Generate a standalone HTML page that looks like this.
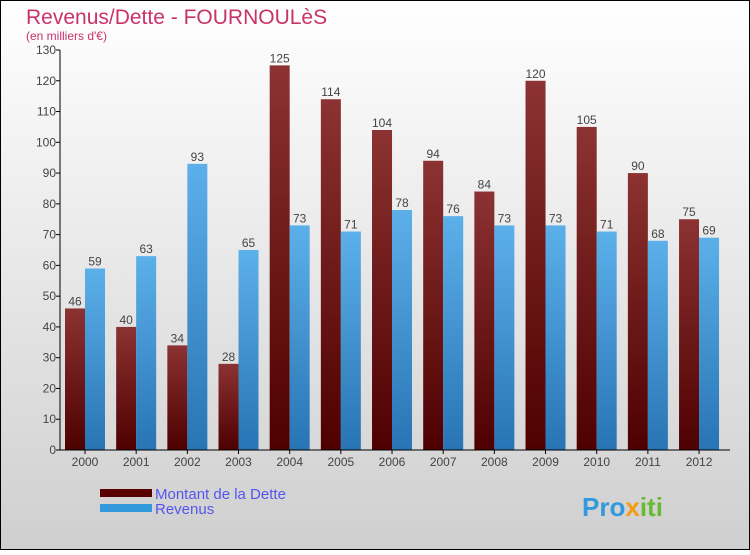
<!DOCTYPE html>
<html><head><meta charset="utf-8"><style>
body{margin:0}
#c{width:750px;height:550px;position:relative;font-family:"Liberation Sans",sans-serif}
</style></head><body>
<div id="c">
<svg width="750" height="550" id="svg">
<defs>
<linearGradient id="bg" x1="0" y1="0" x2="0" y2="1"><stop offset="0" stop-color="#ffffff"/><stop offset="1" stop-color="#cfcfcf"/></linearGradient>
<linearGradient id="gd" x1="0" y1="0" x2="0" y2="1"><stop offset="0" stop-color="#8c3232"/><stop offset="1" stop-color="#4e0000"/></linearGradient>
<linearGradient id="gr" x1="0" y1="0" x2="0" y2="1"><stop offset="0" stop-color="#5cb0ea"/><stop offset="1" stop-color="#2874b4"/></linearGradient>
</defs>
<rect x="0.5" y="0.5" width="749" height="549" fill="url(#bg)" stroke="#000"/>
<text x="26" y="24" font-size="21" fill="#c8336a">Revenus/Dette - FOURNOULèS</text>
<text x="26" y="40" font-size="12" fill="#c8336a">(en milliers d'€)</text>
<g id="plot"></g>
<rect x="100" y="489" width="52" height="8" fill="#5a0000"/>
<text x="155" y="499" font-size="15" fill="#5555ee">Montant de la Dette</text>
<rect x="100" y="504" width="52" height="8" fill="#3399dd"/>
<text x="155" y="514" font-size="15" fill="#5555ee">Revenus</text>
<text x="582" y="516" font-size="26" font-weight="bold" fill="#3399dd">Pro<tspan fill="#f39c12">x</tspan><tspan fill="#66bb33">iti</tspan></text>
</svg>
</div>
<script>
const years=["2000","2001","2002","2003","2004","2005","2006","2007","2008","2009","2010","2011","2012"];
const dette=[46,40,34,28,125,114,104,94,84,120,105,90,75];
const revenus=[59,63,93,65,73,71,78,76,73,73,71,68,69];
const yTicks=[0,10,20,30,40,50,60,70,80,90,100,110,120,130];
const NS="http://www.w3.org/2000/svg";
const g=document.getElementById('plot');
const y0=450,ymax=130,ph=400,x0=60,step=51.17;
const ys=v=>y0-v/ymax*ph;
const xc=i=>85+i*step;
function mk(t,a,txt){const e=document.createElementNS(NS,t);for(const k in a)e.setAttribute(k,a[k]);if(txt!=null)e.textContent=txt;g.appendChild(e);return e;}
yTicks.forEach(t=>{
 const l=mk('line',{x1:x0-4,x2:x0,y1:ys(t),y2:ys(t),stroke:'#000'});
 
 
 const tx=mk('text',{x:x0-4,y:ys(t)+4,'font-size':12,fill:'#444','text-anchor':'end'},t);
 
 
});
years.forEach((yr,i)=>{
 const c=xc(i);
 const b1=mk('rect',{x:c-20,y:ys(dette[i]),width:20,height:y0-ys(dette[i]),fill:'url(#gd)'});
 
 
 const b2=mk('rect',{x:c,y:ys(revenus[i]),width:20,height:y0-ys(revenus[i]),fill:'url(#gr)'});
 
 
 const v1=mk('text',{x:c-10,y:ys(dette[i])-3,'font-size':12,fill:'#444','text-anchor':'middle'},dette[i]);
 
 
 const v2=mk('text',{x:c+10,y:ys(revenus[i])-3,'font-size':12,fill:'#444','text-anchor':'middle'},revenus[i]);
 
 
 const tk=mk('line',{x1:c,x2:c,y1:y0,y2:y0+4,stroke:'#000'});
 
 
 const xl=mk('text',{x:c,y:y0+16,'font-size':12,fill:'#444','text-anchor':'middle'},yr);
 
 
});
const ya=mk('line',{x1:x0,x2:x0,y1:ys(130),y2:y0,stroke:'#000'});


const xa=mk('line',{x1:x0,x2:730,y1:y0,y2:y0,stroke:'#000'});


</script>
</body></html>
